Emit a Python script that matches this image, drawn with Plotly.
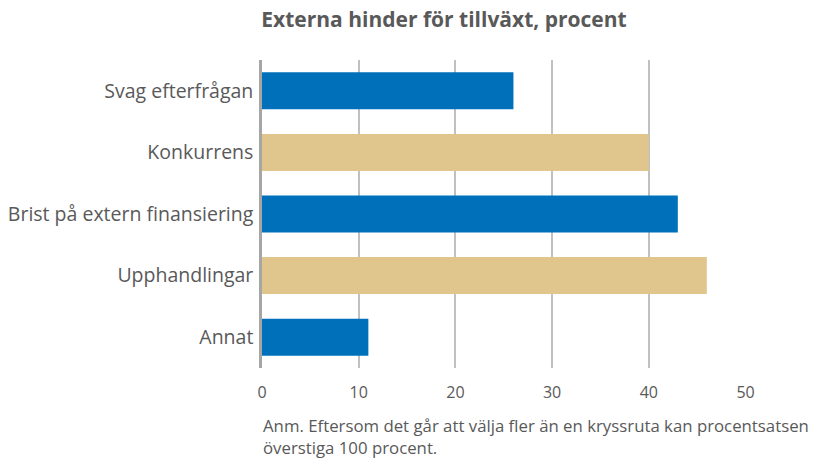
import plotly.graph_objects as go

categories = ["Svag efterfrågan", "Konkurrens", "Brist på extern finansiering", "Upphandlingar", "Annat"]
values = [26, 40, 43, 46, 11]
bar_colors = ["#0070BA", "#E0C58D", "#0070BA", "#E0C58D", "#0070BA"]
x_ticks = [0, 10, 20, 30, 40, 50]

title_text = "Externa hinder för tillväxt, procent"
note_text = "Anm. Eftersom det går att välja fler än en kryssruta kan procentsatsen<br>överstiga 100 procent."

FONT = "Open Sans, Liberation Sans, sans-serif"
GRAY = "#595959"

fig = go.Figure(go.Bar(
    y=categories, x=values, orientation="h",
    marker=dict(color=bar_colors, line=dict(width=0)),
    hoverinfo="skip",
))

fig.update_layout(
    width=822, height=458,
    margin=dict(l=262, r=76, t=60, b=90),
    paper_bgcolor="white", plot_bgcolor="white",
    bargap=0.4,
    showlegend=False,
    font=dict(family=FONT, color=GRAY, size=16),
    title=dict(text="<b>" + title_text + "</b>", x=444/822, xanchor="center",
               y=1 - 20/458, yanchor="middle", yref="container",
               font=dict(family=FONT, size=21, color=GRAY)),
    xaxis=dict(range=[0, 50.05], tickvals=x_ticks, showgrid=True, gridcolor="#C0C0C0",
               gridwidth=1.5, zeroline=False, showline=False, ticks="", automargin=False,
               ticklabelstandoff=13, tickfont=dict(size=16, color=GRAY)),
    yaxis=dict(autorange="reversed", showgrid=False, zeroline=False, showline=True,
               linecolor="#A6A6A6", linewidth=2.5, ticks="", ticklabelstandoff=2,
               automargin=False, tickfont=dict(size=19.5, color=GRAY)),
    annotations=[dict(text=note_text, xref="paper", yref="paper", x=-0.002, y=-0.143,
                      xanchor="left", yanchor="top", align="left", showarrow=False,
                      font=dict(family=FONT, size=16.8, color=GRAY))],
)

fig.write_html("out.html", config={"displayModeBar": False},
               post_script="document.body.style.margin='0';")
